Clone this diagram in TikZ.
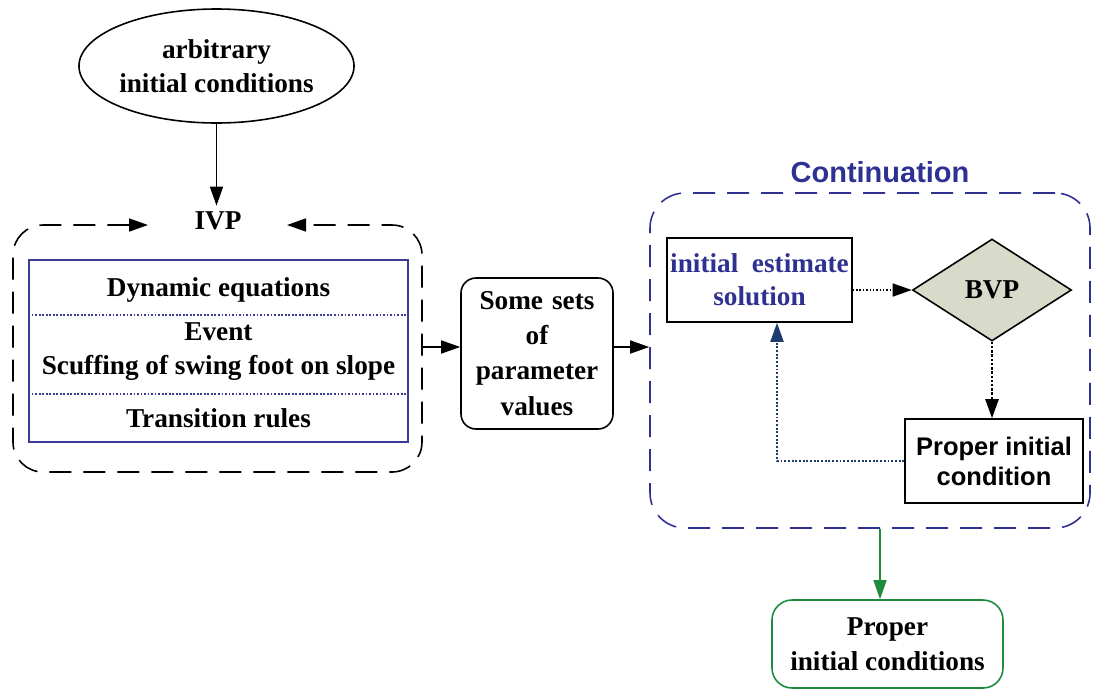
\documentclass[tikz,border=0pt]{standalone}
\usepackage{fontspec}
\setmainfont{Liberation Serif}
\newfontfamily\arialfont{Liberation Sans}
\usetikzlibrary{arrows.meta,shapes.geometric}
\definecolor{ivpblue}{HTML}{3A3C96}
\definecolor{contblue}{HTML}{2E3192}
\definecolor{backblue}{HTML}{1F3C6E}
\definecolor{bvpfill}{HTML}{D8DBC9}
\definecolor{okgreen}{HTML}{1E8C3C}
\tikzset{
	txt/.style = {align=center, font=\fontsize{15.5}{19}\selectfont\bfseries},
	sanstxt/.style = {align=center, font=\arialfont\fontsize{14.5}{17}\selectfont\bfseries},
	box/.style = {draw, line width=0.9pt, inner sep=0pt},
	tip/.style = {-{Triangle[length=3.8mm,width=2.6mm]}},
	bigdash/.style = {line width=0.9pt, dash pattern=on 4.4mm off 2.4mm}
}
\begin{document}
\begin{tikzpicture} [x = 0.2mm, y = -0.2mm]
	\useasboundingbox (0,0) rectangle (1093,689);
	\node[box, ellipse, minimum width=46.4mm, minimum height=22.8mm, txt] (arb) at (216.5,66) {arbitrary\\initial conditions};
	\node[txt] (ivplabel) at (218,221) {IVP};
	\draw[line width=0.9pt, tip] (arb.south) -- (arb.south |- ivplabel.north);
	\draw[bigdash, rounded corners=6mm, {Triangle[length=3.8mm,width=2.6mm]}-{Triangle[length=3.8mm,width=2.6mm]}] (148,225) -- (13,225) -- (13,472) -- (422,472) -- (422,225) -- (287,225);
	\coordinate (ivpR) at (422,347);
	\node[box, draw=ivpblue, minimum width=75.8mm, minimum height=36.4mm] (ivp) at (218.5,351) {};
	\draw[ivpblue, densely dotted, line width=1pt] (ivp.west |- 0,315) -- (ivp.east |- 0,315);
	\draw[ivpblue, densely dotted, line width=1pt] (ivp.west |- 0,394) -- (ivp.east |- 0,394);
	\node[txt] (dyn) at (218.5,290) {Dynamic equations};
	\node[txt] (event) at (218.5,351.5) {Event\\Scuffing of swing foot on slope};
	\node[txt] (trans) at (218.5,418) {Transition rules};
	\node[box, rounded corners=3mm, minimum width=30.4mm, minimum height=30.2mm, txt, text width=29mm, font=\fontsize{15.5}{20}\selectfont\bfseries] (params) at (537,353.5) {Some sets\\of\\parameter\\values};
	\node[box, draw=contblue, bigdash, rounded corners=7mm, minimum width=88mm, minimum height=67mm] (cont) at (870,360.5) {};
	\node[sanstxt, text=contblue, font=\arialfont\fontsize{16.5}{19}\selectfont\bfseries] (contlabel) at (880,172) {Continuation};
	\draw[line width=0.9pt, tip] (ivpR) -- (params.west |- ivpR);
	\draw[line width=0.9pt, tip] (params.east |- ivpR) -- (cont.west |- ivpR);
	\node[box, minimum width=37mm, minimum height=16.8mm, txt, text=contblue] (est) at (759.5,280) {initial\ \ estimate\\solution};
	\node[box, diamond, aspect=1.56, fill=bvpfill, minimum width=31.8mm, minimum height=20.4mm, txt] (bvp) at (992,290) {BVP};
	\node[box, minimum width=35.6mm, minimum height=16.8mm, sanstxt] (proper) at (994,461) {Proper initial\\condition};
	\draw[densely dotted, line width=0.9pt, tip] (est.east |- bvp.west) -- (bvp.west);
	\draw[densely dotted, line width=1.4pt, tip] (bvp.south) -- (bvp.south |- proper.north);
	\coordinate (backx) at (777,0);
	\draw[backblue, densely dotted, line width=1.1pt, tip] (proper.west) -| (backx |- est.south);
	\node[box, draw=okgreen, rounded corners=4mm, minimum width=46.2mm, minimum height=17.6mm, txt, font=\fontsize{15.5}{20}\selectfont\bfseries] (final) at (887.5,644) {Proper\\initial conditions};
	\coordinate (downx) at (880,0);
	\draw[okgreen, line width=0.9pt, tip] (downx |- cont.south) -- (downx |- final.north);
\end{tikzpicture}
\end{document}
